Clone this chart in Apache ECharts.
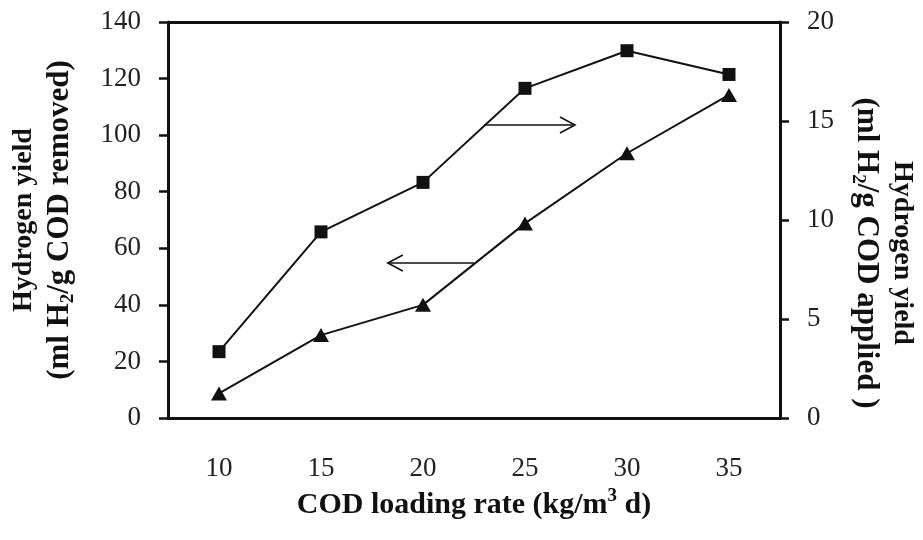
<!DOCTYPE html>
<html>
<head>
<meta charset="utf-8">
<script src="https://cdn.jsdelivr.net/npm/echarts@6/dist/echarts.min.js"></script>
<style>
html,body{margin:0;padding:0;background:#fff;}
#c{width:923px;height:540px;}
</style>
</head>
<body>
<div id="c"></div>
<script>
var categories = ['10', '15', '20', '25', '30', '35'];
// Hydrogen yield (ml H2/g COD removed), left axis, triangles
var yieldRemoved = [8.7, 29.3, 40, 68.8, 93.6, 114.2];
// Hydrogen yield (ml H2/g COD applied), right axis, squares
var yieldApplied = [3.35, 9.4, 11.9, 16.65, 18.55, 17.35];
var leftTicks = {min: 0, max: 140, interval: 20};
var rightTicks = {min: 0, max: 20, interval: 5};
// annotation arrows: [fromCategoryPos, value, toCategoryPos]
var arrowToRight = [[2.6, 14.8, 3.49]];   // on right axis scale
var arrowToLeft = [[2.5, 54.8, 1.655]];   // on left axis scale

var serif = '"Liberation Serif","Times New Roman",serif';
var ink = '#111';

function richName(size, size2) {
  return {
    b: {fontFamily: serif, fontWeight: 'bold', fontSize: size, lineHeight: 36, color: ink},
    c: {fontFamily: serif, fontWeight: 'bold', fontSize: size2, lineHeight: 36, color: ink},
    s: {fontFamily: serif, fontWeight: 'bold', fontSize: 19, lineHeight: 12, verticalAlign: 'bottom', color: ink},
    p: {fontFamily: serif, fontWeight: 'bold', fontSize: 19, lineHeight: 12, verticalAlign: 'top', color: ink}
  };
}

function arrowRender(params, api) {
  var p0 = api.coord([api.value(0), api.value(1)]);
  var p1 = api.coord([api.value(2), api.value(1)]);
  var dir = p1[0] > p0[0] ? 1 : -1;
  var hl = 15, hw = 8;
  return {
    type: 'group',
    children: [
      {type: 'polyline', shape: {points: [p0, p1]}, style: {stroke: ink, lineWidth: 1.6, fill: null}},
      {type: 'polyline', shape: {points: [[p1[0] - dir * hl, p1[1] - hw], p1, [p1[0] - dir * hl, p1[1] + hw]]},
        style: {stroke: ink, lineWidth: 1.6, fill: null}}
    ]
  };
}

var chart = echarts.init(document.getElementById('c'));
chart.setOption({
  backgroundColor: '#fff',
  animation: false,
  grid: {left: 168, right: 143, top: 22, bottom: 122, containLabel: false, outerBoundsMode: 'none'},
  xAxis: [{
    type: 'category',
    data: categories,
    boundaryGap: true,
    axisLine: {onZero: false, lineStyle: {color: ink, width: 3}},
    axisTick: {alignWithLabel: true, length: 8, lineStyle: {color: ink, width: 2.5}},
    axisLabel: {fontFamily: serif, fontSize: 27, color: '#222', margin: 37},
    splitLine: {show: false},
    name: '{c|COD loading rate (kg/m}{p|3}{c| d)}',
    nameLocation: 'middle',
    nameGap: 63,
    nameTextStyle: {rich: richName(28, 30)}
  }, {
    type: 'value',
    position: 'top',
    min: -0.5,
    max: 5.5,
    axisLine: {show: true, onZero: false, lineStyle: {color: ink, width: 3}},
    axisTick: {show: false},
    axisLabel: {show: false},
    splitLine: {show: false}
  }],
  yAxis: [{
    type: 'value',
    position: 'left',
    min: leftTicks.min, max: leftTicks.max, interval: leftTicks.interval,
    axisLine: {show: true, onZero: false, lineStyle: {color: ink, width: 3}},
    axisTick: {show: true, length: 9, lineStyle: {color: ink, width: 2.5}},
    axisLabel: {fontFamily: serif, fontSize: 27, color: '#222', margin: 27},
    splitLine: {show: false},
    name: '{b|Hydrogen yield}\n{c|(ml H}{s|2}{c|/g COD removed)}',
    nameLocation: 'middle',
    nameGap: 90,
    nameTextStyle: {rich: richName(28, 31), padding: [0, 0, 0, 0]}
  }, {
    type: 'value',
    position: 'right',
    min: rightTicks.min, max: rightTicks.max, interval: rightTicks.interval,
    axisLine: {show: true, onZero: false, lineStyle: {color: ink, width: 3}},
    axisTick: {show: true, length: 9, lineStyle: {color: ink, width: 2.5}},
    axisLabel: {fontFamily: serif, fontSize: 27, color: '#222', margin: 27},
    splitLine: {show: false},
    name: '{b|Hydrogen yield}\n{c|(ml H}{s|2}{c|/g COD applied )}',
    nameLocation: 'middle',
    nameRotate: -90,
    nameGap: 68,
    nameTextStyle: {rich: richName(28, 31), padding: [0, 0, 0, 66]}
  }],
  series: [{
    name: 'removed',
    type: 'line',
    xAxisIndex: 0, yAxisIndex: 0,
    data: yieldRemoved,
    symbol: 'triangle',
    symbolSize: [16, 14],
    lineStyle: {color: ink, width: 2},
    itemStyle: {color: ink},
    z: 3
  }, {
    name: 'applied',
    type: 'line',
    xAxisIndex: 0, yAxisIndex: 1,
    data: yieldApplied,
    symbol: 'rect',
    symbolSize: 13,
    lineStyle: {color: ink, width: 2},
    itemStyle: {color: ink},
    z: 3
  }, {
    type: 'custom',
    xAxisIndex: 1, yAxisIndex: 1,
    data: arrowToRight,
    renderItem: arrowRender,
    silent: true
  }, {
    type: 'custom',
    xAxisIndex: 1, yAxisIndex: 0,
    data: arrowToLeft,
    renderItem: arrowRender,
    silent: true
  }]
});
</script>
</body>
</html>
